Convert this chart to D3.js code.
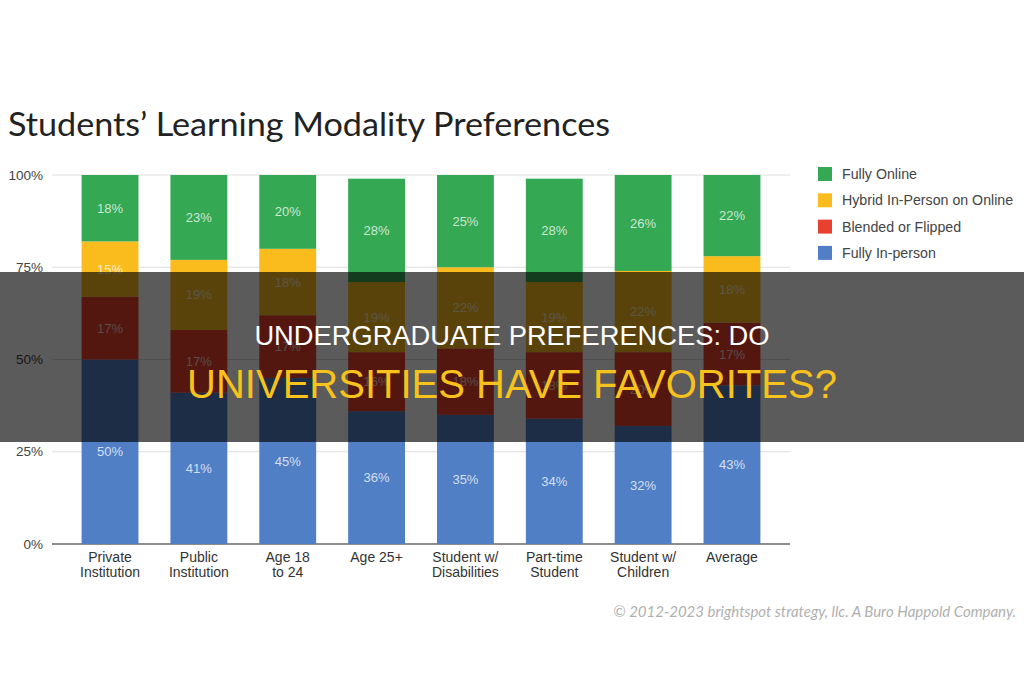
<!DOCTYPE html>
<html>
<head>
<meta charset="utf-8">
<script src="https://cdn.jsdelivr.net/npm/d3@7"></script>
<style>
  html, body { margin: 0; padding: 0; background: #fff; }
  svg { display: block; }
</style>
</head>
<body>
<div class="chart"></div>
<script>
// Chart data
const categories = [
  ["Private", "Institution"],
  ["Public", "Institution"],
  ["Age 18", "to 24"],
  ["Age 25+"],
  ["Student w/", "Disabilities"],
  ["Part-time", "Student"],
  ["Student w/", "Children"],
  ["Average"]
];
const fullyInPerson = [50, 41, 45, 36, 35, 34, 32, 43];
const blendedOrFlipped = [17, 17, 17, 16, 18, 18, 20, 17];
const hybrid = [15, 19, 18, 19, 22, 19, 22, 18];
const fullyOnline = [18, 23, 20, 28, 25, 28, 26, 22];
const seriesNames = ["Fully In-person", "Blended or Flipped", "Hybrid In-Person on Online", "Fully Online"];
const seriesColors = ["#517fc5", "#e8412f", "#f9bc1c", "#34a853"];
const legendOrder = [3, 2, 1, 0];
const yTicks = [0, 25, 50, 75, 100];

const W = 1024, H = 683;
const svg = d3.select(".chart").append("svg")
  .attr("width", W)
  .attr("height", H)
  .attr("viewBox", `0 0 ${W} ${H}`);

// Title
svg.append("text")
  .attr("x", 8)
  .attr("y", 136)
  .attr("font-family", "Lato, 'Open Sans', sans-serif")
  .attr("font-size", 32)
  .attr("fill", "#222")
  .attr("textLength", 602)
  .attr("lengthAdjust", "spacingAndGlyphs")
  .text("Students\u2019 Learning Modality Preferences");

// Scales
const x = d3.scaleBand()
  .domain(d3.range(categories.length))
  .range([65.6, 776.4])
  .paddingInner(0.36)
  .paddingOuter(0.18);

const y = d3.scaleLinear()
  .domain([0, 100])
  .range([544, 175]);

// Gridlines and y tick labels
const grid = svg.append("g");
grid.selectAll("line")
  .data(yTicks)
  .join("line")
  .attr("x1", 52)
  .attr("x2", 790)
  .attr("y1", d => y(d))
  .attr("y2", d => y(d))
  .attr("stroke", d => d === 0 ? "#666" : "#dedede")
  .attr("stroke-width", d => d === 0 ? 1.5 : 1);

grid.selectAll("text")
  .data(yTicks)
  .join("text")
  .attr("x", 43)
  .attr("y", d => y(d))
  .attr("dy", "0.35em")
  .attr("text-anchor", "end")
  .attr("font-family", "'Liberation Sans', Arial, sans-serif")
  .attr("font-size", 13.5)
  .attr("fill", "#444")
  .text(d => d + "%");

// Stack the series
const table = categories.map((c, i) => ({
  i,
  s0: fullyInPerson[i],
  s1: blendedOrFlipped[i],
  s2: hybrid[i],
  s3: fullyOnline[i]
}));
const stack = d3.stack().keys(["s0", "s1", "s2", "s3"]);
const layers = stack(table);

const layerG = svg.append("g").selectAll("g")
  .data(layers)
  .join("g")
  .attr("fill", (d, k) => seriesColors[k]);

layerG.selectAll("rect")
  .data(d => d)
  .join("rect")
  .attr("x", d => x(d.data.i))
  .attr("width", x.bandwidth())
  .attr("y", d => y(d[1]))
  .attr("height", d => y(d[0]) - y(d[1]));

// Value labels inside the segments
layerG.selectAll("text")
  .data(d => d.map(p => ({ p, v: p[1] - p[0] })))
  .join("text")
  .attr("x", d => x(d.p.data.i) + x.bandwidth() / 2)
  .attr("y", d => y((d.p[0] + d.p[1]) / 2))
  .attr("dy", "0.35em")
  .attr("text-anchor", "middle")
  .attr("font-family", "'Liberation Sans', Arial, sans-serif")
  .attr("font-size", 13)
  .attr("fill", "#fff")
  .attr("fill-opacity", 0.75)
  .text(d => d.v + "%");

// Category labels
const xl = svg.append("g").selectAll("text")
  .data(categories)
  .join("text")
  .attr("x", (d, i) => x(i) + x.bandwidth() / 2)
  .attr("y", 562)
  .attr("text-anchor", "middle")
  .attr("font-family", "'Liberation Sans', Arial, sans-serif")
  .attr("font-size", 14)
  .attr("fill", "#333");
xl.selectAll("tspan")
  .data(d => d)
  .join("tspan")
  .attr("x", function () { return d3.select(this.parentNode).attr("x"); })
  .attr("dy", (d, j) => j === 0 ? 0 : 15)
  .text(d => d);

// Legend
const legend = svg.append("g").selectAll("g")
  .data(legendOrder)
  .join("g")
  .attr("transform", (d, j) => `translate(818, ${174 + j * 26.3})`);
legend.append("rect")
  .attr("x", 0)
  .attr("y", -7)
  .attr("width", 14)
  .attr("height", 14)
  .attr("fill", k => seriesColors[k]);
legend.append("text")
  .attr("x", 24)
  .attr("dy", "0.35em")
  .attr("font-family", "'Liberation Sans', Arial, sans-serif")
  .attr("font-size", 14.2)
  .attr("fill", "#444")
  .text(k => seriesNames[k]);

// Copyright line
svg.append("text")
  .attr("x", 1016)
  .attr("y", 617)
  .attr("text-anchor", "end")
  .attr("font-family", "Lato, sans-serif")
  .attr("font-style", "italic")
  .attr("font-size", 15)
  .attr("fill", "#b0b0b0")
  .text("\u00a9 2012-2023 brightspot strategy, llc. A Buro Happold Company.");

// Dark headline band over the chart
svg.append("rect")
  .attr("x", 0)
  .attr("y", 272)
  .attr("width", W)
  .attr("height", 170)
  .attr("fill", "#000")
  .attr("fill-opacity", 0.645);

svg.append("text")
  .attr("x", W / 2)
  .attr("y", 345)
  .attr("text-anchor", "middle")
  .attr("font-family", "'Liberation Sans', Arial, sans-serif")
  .attr("font-size", 27.3)
  .attr("fill", "#fff")
  .text("UNDERGRADUATE PREFERENCES: DO");

svg.append("text")
  .attr("x", W / 2)
  .attr("y", 398)
  .attr("text-anchor", "middle")
  .attr("font-family", "'Liberation Sans', Arial, sans-serif")
  .attr("font-size", 40)
  .attr("fill", "#f7c21b")
  .text("UNIVERSITIES HAVE FAVORITES?");
</script>
</body>
</html>
